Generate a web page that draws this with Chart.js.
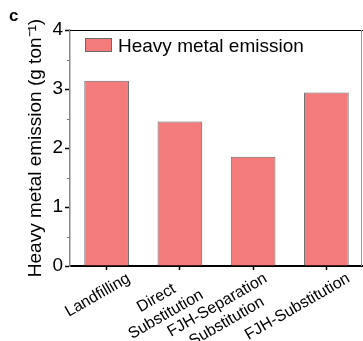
<!DOCTYPE html>
<html>
<head>
<meta charset="utf-8">
<script src="https://cdn.jsdelivr.net/npm/chart.js@4.4.1/dist/chart.umd.min.js"></script>
<style>
  html, body { margin: 0; padding: 0; background: #fff; }
  #wrap { position: relative; width: 363px; height: 341px; }
</style>
</head>
<body>
<div id="wrap"><canvas id="chart" width="363" height="341"></canvas></div>
<script>
// ---- data ----
const categories = [["Landfilling"], ["Direct", "Substitution"], ["FJH-Separation", "Substitution"], ["FJH-Substitution"]];
const emission = [3.14, 2.45, 1.85, 2.94];
const yTicks = [0, 1, 2, 3, 4];
const yMinorTicks = [0.5, 1.5, 2.5, 3.5];
const seriesName = "Heavy metal emission";

const FONT = "'Liberation Sans', Arial, sans-serif";
const barColor = "#F47B7B";
const barEdge = "#6a6a6a";

// frame, minor ticks, rotated category labels, legend and panel letter
const decorations = {
    id: "decorations",
    afterDraw(chart) {
        const { ctx, chartArea: a } = chart;
        const xs = chart.scales.x, ys = chart.scales.y;
        ctx.save();

        // top and right frame
        ctx.strokeStyle = "#000";
        ctx.lineWidth = 1;
        ctx.beginPath();
        ctx.moveTo(a.left, a.top + 0.5);
        ctx.lineTo(a.right, a.top + 0.5);
        ctx.stroke();
        ctx.strokeStyle = "#999";
        ctx.beginPath();
        ctx.moveTo(a.right - 1.5, a.top);
        ctx.lineTo(a.right - 1.5, a.bottom);
        ctx.stroke();

        // minor y ticks
        ctx.strokeStyle = "#777";
        ctx.lineWidth = 1;
        yMinorTicks.forEach(v => {
            const y = Math.round(ys.getPixelForValue(v)) + 0.5;
            ctx.beginPath();
            ctx.moveTo(a.left - 3, y);
            ctx.lineTo(a.left, y);
            ctx.stroke();
        });

        // category labels, rotated, lines centred
        const ang = 30 * Math.PI / 180, lh = 19;
        ctx.font = "16px " + FONT;
        ctx.fillStyle = "#000";
        ctx.textAlign = "center";
        ctx.textBaseline = "middle";
        categories.forEach((lines, i) => {
            const tx = xs.getPixelForTick(i);
            const W = Math.max(...lines.map(s => ctx.measureText(s).width));
            const H = lines.length * lh;
            ctx.save();
            ctx.translate(tx + 27 - H * Math.sin(ang), xs.top + 3);
            ctx.rotate(-ang);
            lines.forEach((s, j) => ctx.fillText(s, -W / 2, lh * (j + 0.5)));
            ctx.restore();
        });

        // legend
        const lx = a.left + 15, ly = a.top + 8;
        ctx.fillStyle = barColor;
        ctx.fillRect(lx, ly, 27, 14);
        ctx.strokeStyle = barEdge;
        ctx.strokeRect(lx + 0.5, ly + 0.5, 26, 13);
        ctx.fillStyle = "#000";
        ctx.font = "19px " + FONT;
        ctx.textAlign = "left";
        ctx.textBaseline = "alphabetic";
        ctx.fillText(chart.data.datasets[0].label, lx + 33, ly + 14);

        // panel letter
        ctx.font = "bold 17px " + FONT;
        ctx.fillText("c", 9, 21);
        ctx.restore();
    }
};

new Chart(document.getElementById("chart"), {
    type: "bar",
    data: {
        labels: categories,
        datasets: [{
            label: seriesName,
            data: emission,
            backgroundColor: barColor,
            borderColor: barEdge,
            borderWidth: 1,
            barPercentage: 0.61,
            categoryPercentage: 1
        }]
    },
    options: {
        responsive: false,
        animation: false,
        layout: { padding: { top: 30, right: 0, bottom: 0, left: 0 } },
        plugins: { legend: { display: false }, tooltip: { enabled: false } },
        scales: {
            x: {
                grid: { offset: false, drawOnChartArea: false, tickLength: 4, tickColor: "#000", tickWidth: 1.5 },
                border: { color: "#000", width: 2 },
                ticks: { display: false },
                afterFit: s => { s.height = 75; }
            },
            y: {
                min: 0,
                max: 4,
                afterBuildTicks: s => { s.ticks = yTicks.map(v => ({ value: v })); },
                grid: { drawOnChartArea: false, tickLength: 5, tickColor: "#000", tickWidth: 1.5 },
                border: { color: "#8a8a8a", width: 1.5 },
                ticks: { color: "#000", padding: 2, font: { family: FONT, size: 19 } },
                title: {
                    display: true,
                    text: "Heavy metal emission (g ton\u207B\u00B9)",
                    color: "#000",
                    font: { family: FONT, size: 19 },
                    padding: { top: 24, bottom: 0 }
                },
                afterFit: s => { s.width = 70; }
            }
        }
    },
    plugins: [decorations]
});
</script>
</body>
</html>
